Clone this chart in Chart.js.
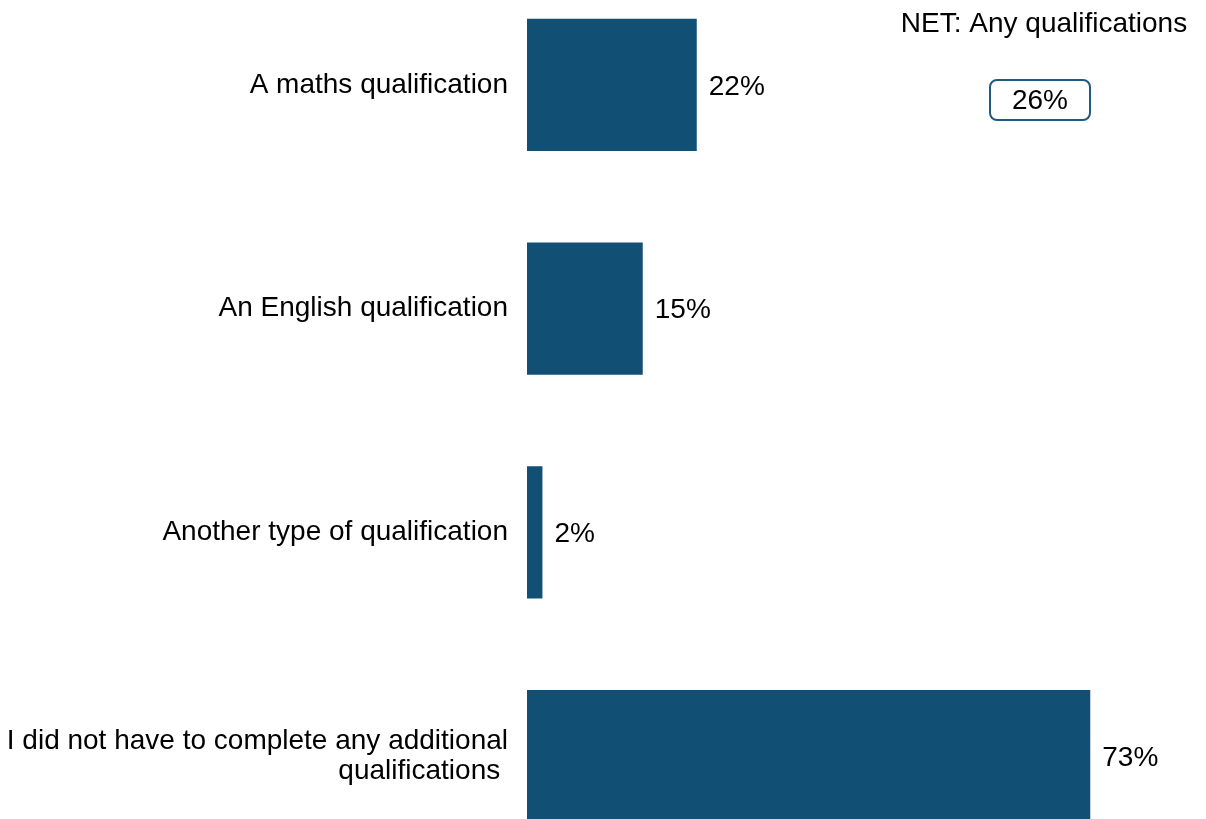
<!DOCTYPE html>
<html>
<head>
<meta charset="utf-8">
<script src="https://cdn.jsdelivr.net/npm/chart.js@4"></script>
<style>
  html, body { margin: 0; padding: 0; background: #fff; overflow: hidden; }
  #wrap { position: absolute; left: 0; top: -27px; width: 1206px; height: 895px; }
</style>
</head>
<body>
<div id="wrap"><canvas id="qualChart"></canvas></div>
<script>
// categories and values (% of respondents)
const categories = [
  "A maths qualification",
  "An English qualification",
  "Another type of qualification",
  ["I did not have to complete any additional", "qualifications "],
];
const values = [22, 15, 2, 73];
const netLabel = "NET: Any qualifications";
const netValue = 26;

const barColor = "#114F74";
const fontFamily = "'Liberation Sans', Arial, sans-serif";
const fontSize = 28;

// value text to the right of each bar
const barLabels = {
  id: "barLabels",
  afterDatasetsDraw(chart) {
    const ctx = chart.ctx;
    const meta = chart.getDatasetMeta(0);
    ctx.save();
    ctx.font = fontSize + "px " + fontFamily;
    ctx.fillStyle = "#000";
    ctx.textAlign = "left";
    ctx.textBaseline = "middle";
    meta.data.forEach((bar, i) => {
      ctx.fillText(values[i] + "%", bar.x + 12, bar.y + 2);
    });
    ctx.restore();
  },
};

// NET summary in the top right corner
const netBox = {
  id: "netBox",
  afterDraw(chart) {
    const ctx = chart.ctx;
    const top = chart.chartArea.top + 27;
    ctx.save();
    ctx.font = fontSize + "px " + fontFamily;
    ctx.fillStyle = "#000";
    ctx.textAlign = "center";
    ctx.textBaseline = "middle";
    ctx.fillText(netLabel, 1044, top + 24);

    ctx.beginPath();
    ctx.roundRect(990, top + 80, 100, 40, 7);
    ctx.lineWidth = 2;
    ctx.strokeStyle = "#1F5A80";
    ctx.stroke();
    ctx.fillText(netValue + "%", 1040, top + 101);
    ctx.restore();
  },
};

new Chart(document.getElementById("qualChart"), {
  type: "bar",
  data: {
    labels: categories,
    datasets: [
      {
        data: values,
        backgroundColor: barColor,
        borderWidth: 0,
        barPercentage: 0.59,
        categoryPercentage: 1,
      },
    ],
  },
  options: {
    indexAxis: "y",
    responsive: true,
    maintainAspectRatio: false,
    animation: false,
    layout: { padding: 0 },
    plugins: {
      legend: { display: false },
      tooltip: { enabled: false },
    },
    scales: {
      x: {
        display: false,
        min: 0,
        max: 88,
      },
      y: {
        grid: { display: false, drawTicks: false },
        border: { display: false },
        ticks: {
          color: "#000",
          padding: 19,
          font: { family: fontFamily, size: fontSize, lineHeight: 1.05 },
        },
        afterFit(scale) {
          // fixed label column, no extra room above/below the bars
          scale.width = 527;
          scale.paddingTop = 0;
          scale.paddingBottom = 0;
        },
      },
    },
  },
  plugins: [barLabels, netBox],
});
</script>
</body>
</html>
